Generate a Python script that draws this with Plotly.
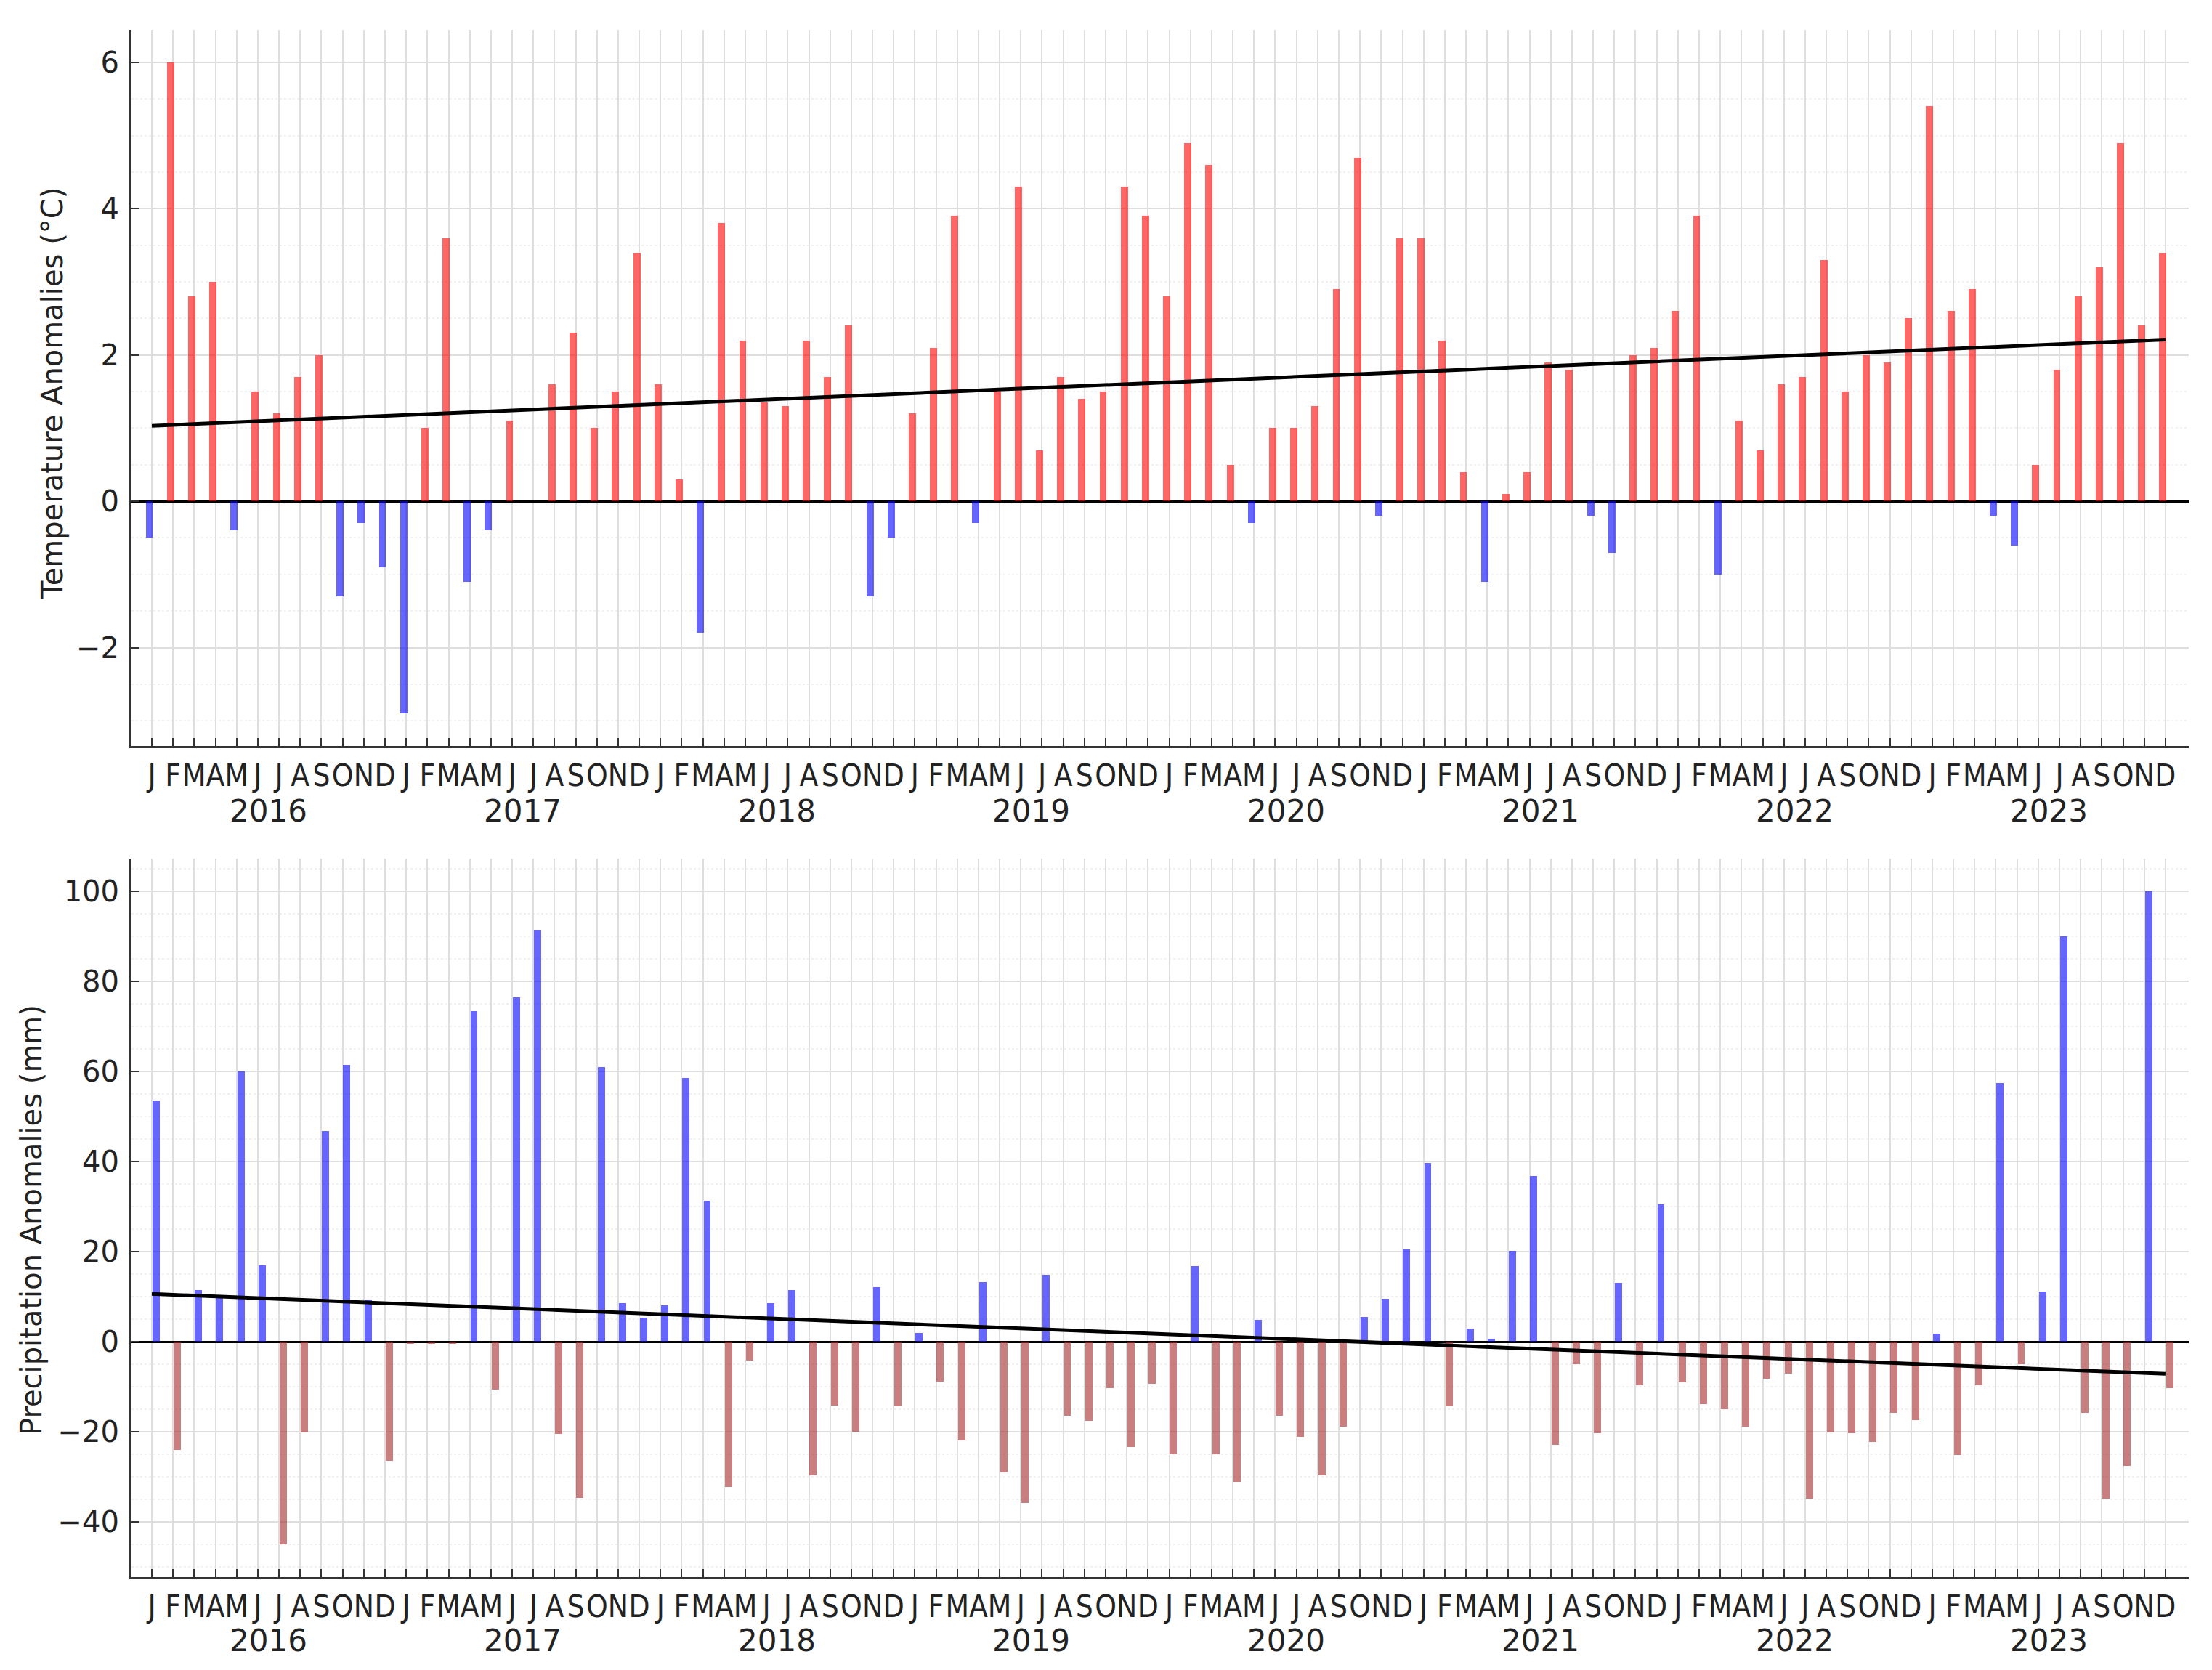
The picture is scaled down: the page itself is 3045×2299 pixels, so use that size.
import numpy as np
import plotly.graph_objects as go

# ---------------- data ----------------
years = [2016, 2017, 2018, 2019, 2020, 2021, 2022, 2023]
month_letters = ["J", "F", "M", "A", "M", "J", "J", "A", "S", "O", "N", "D"]

temp_anom = [
    -0.5, 6.0, 2.8, 3.0, -0.4, 1.5, 1.2, 1.7, 2.0, -1.3, -0.3, -0.9,     # 2016
    -2.9, 1.0, 3.6, -1.1, -0.4, 1.1, 0.0, 1.6, 2.3, 1.0, 1.5, 3.4,       # 2017
    1.6, 0.3, -1.8, 3.8, 2.2, 1.35, 1.3, 2.2, 1.7, 2.4, -1.3, -0.5,      # 2018
    1.2, 2.1, 3.9, -0.3, 1.5, 4.3, 0.7, 1.7, 1.4, 1.5, 4.3, 3.9,         # 2019
    2.8, 4.9, 4.6, 0.5, -0.3, 1.0, 1.0, 1.3, 2.9, 4.7, -0.2, 3.6,        # 2020
    3.6, 2.2, 0.4, -1.1, 0.1, 0.4, 1.9, 1.8, -0.2, -0.7, 2.0, 2.1,       # 2021
    2.6, 3.9, -1.0, 1.1, 0.7, 1.6, 1.7, 3.3, 1.5, 2.0, 1.9, 2.5,         # 2022
    5.4, 2.6, 2.9, -0.2, -0.6, 0.5, 1.8, 2.8, 3.2, 4.9, 2.4, 3.4,        # 2023
]

precip_anom = [
    53.5, -24.0, 11.5, 10.0, 60.0, 17.0, -45.0, -20.2, 46.7, 61.5, 9.3, -26.4,        # 2016
    -0.5, -0.5, -0.5, 73.3, -10.6, 76.4, 91.4, -20.5, -34.6, 61.0, 8.6, 5.3,          # 2017
    8.0, 58.6, 31.3, -32.2, -4.1, 8.6, 11.5, -29.7, -14.1, -19.9, 12.1, -14.4,        # 2018
    2.0, -8.8, -21.9, 13.2, -29.0, -35.8, 14.9, -16.4, -17.6, -10.3, -23.4, -9.4,     # 2019
    -24.9, 16.8, -24.9, -31.1, 4.9, -16.4, -21.1, -29.7, -18.8, 5.5, 9.6, 20.5,       # 2020
    39.6, -14.4, 2.9, 0.6, 20.2, 36.7, -22.9, -5.0, -20.3, 13.1, -9.7, 30.5,          # 2021
    -9.0, -13.8, -15.0, -18.8, -8.2, -7.0, -34.8, -20.2, -20.3, -22.3, -15.8, -17.4,  # 2022
    1.8, -25.2, -9.7, 57.4, -5.0, 11.1, 89.9, -15.8, -34.8, -27.5, 99.9, -10.3,       # 2023
]

temp_ticks = [-2, 0, 2, 4, 6]
precip_ticks = [-40, -20, 0, 20, 40, 60, 80, 100]

# ---------------- derived ----------------
n = len(temp_anom)
idx = np.arange(n)
tick_text = [month_letters[i % 12] for i in range(n)]

t_fit = np.polyfit(idx, temp_anom, 1)
p_fit = np.polyfit(idx, precip_anom, 1)
t_trend = np.polyval(t_fit, idx)
p_trend = np.polyval(p_fit, idx)

RED = "rgba(255,0,0,0.6)"
BLUE = "rgba(0,0,255,0.6)"
BROWN = "rgba(165,42,42,0.6)"

t_colors = [RED if v >= 0 else BLUE for v in temp_anom]
p_colors = [BLUE if v >= 0 else BROWN for v in precip_anom]

def fmt(v):
    return ("\u2212" + str(abs(v))) if v < 0 else str(v)

fig = go.Figure()

fig.add_trace(go.Bar(x=idx, y=temp_anom, width=0.34, offset=-0.29,
                     marker=dict(color=t_colors, line=dict(width=0)),
                     xaxis="x", yaxis="y", showlegend=False))
fig.add_trace(go.Scatter(x=idx, y=t_trend, mode="lines",
                         line=dict(color="black", width=5),
                         xaxis="x", yaxis="y", showlegend=False))

fig.add_trace(go.Bar(x=idx, y=precip_anom, width=0.34, offset=0.03,
                     marker=dict(color=p_colors, line=dict(width=0)),
                     xaxis="x2", yaxis="y2", showlegend=False))
fig.add_trace(go.Scatter(x=idx, y=p_trend, mode="lines",
                         line=dict(color="black", width=5),
                         xaxis="x2", yaxis="y2", showlegend=False))

W, H = 3045, 2299
L, R, T, B = 181, 32, 41, 128
plot_h = H - T - B
top_dom = [(2171 - 1027) / plot_h, 1.0]
bot_dom = [0.0, (2171 - 1182) / plot_h]

FONT = "DejaVu Sans"
COND = "DejaVu Sans Condensed, Liberation Sans Narrow, DejaVu Sans"
AXC = "#333333"
GRID = "#dedede"

xcommon = dict(
    range=[-0.96, 96.1], tickmode="array", tickvals=list(idx), ticktext=tick_text,
    ticks="inside", ticklen=11, tickwidth=2, tickcolor=AXC, tickangle=0,
    tickfont=dict(family=COND, size=42, color="#222222"),
    showline=True, linecolor=AXC, linewidth=3, mirror=False,
    showgrid=True, gridcolor=GRID, gridwidth=1.8, zeroline=False,
    ticklabelstandoff=2,
)
ycommon = dict(
    ticks="inside", ticklen=11, tickwidth=2, tickcolor=AXC,
    tickfont=dict(family=FONT, size=40, color="#222222"),
    showline=True, linecolor=AXC, linewidth=3, mirror=False,
    showgrid=True, gridcolor=GRID, gridwidth=1.5,
    zeroline=True, zerolinecolor="black", zerolinewidth=2.5,
    ticklabelstandoff=6,
)

fig.update_layout(
    width=W, height=H,
    margin=dict(l=L, r=R, t=T, b=B),
    paper_bgcolor="white", plot_bgcolor="white",
    bargap=0, barmode="overlay",
    xaxis=dict(domain=[0, 1], anchor="y", **xcommon),
    xaxis2=dict(domain=[0, 1], anchor="y2", **xcommon),
    yaxis=dict(domain=top_dom, anchor="x", range=[-3.345, 6.445],
               tickmode="array", tickvals=temp_ticks, ticktext=[fmt(v) for v in temp_ticks],
               minor=dict(dtick=0.5, showgrid=True, gridcolor="#f1f1f1", griddash="dot", ticks=""),
               **ycommon),
    yaxis2=dict(domain=bot_dom, anchor="x2", range=[-52.2, 107.2],
                tickmode="array", tickvals=precip_ticks, ticktext=[fmt(v) for v in precip_ticks],
                minor=dict(dtick=5, showgrid=True, gridcolor="#f1f1f1", griddash="dot", ticks=""),
                **ycommon),
    showlegend=False,
)

# y-axis titles as annotations (precise placement)
pw = W - L - R
fig.add_annotation(text="Temperature Anomalies (°C)", textangle=-90,
                   xref="paper", yref="paper",
                   x=(72 - L) / pw, y=(2171 - 542) / plot_h,
                   xanchor="center", yanchor="middle", showarrow=False,
                   font=dict(family=FONT, size=40, color="#222222"))
fig.add_annotation(text="Precipitation Anomalies (mm)", textangle=-90,
                   xref="paper", yref="paper",
                   x=(43 - L) / pw, y=(2171 - 1680) / plot_h,
                   xanchor="center", yanchor="middle", showarrow=False,
                   font=dict(family=FONT, size=40, color="#222222"))

# year labels under each panel
for k, yr in enumerate(years):
    xc = 12 * k + 5.5
    fig.add_annotation(text=str(yr), xref="x", yref="paper", x=xc,
                       y=(2171 - 1117) / plot_h, xanchor="center", yanchor="middle",
                       showarrow=False, font=dict(family=FONT, size=42, color="#222222"))
    fig.add_annotation(text=str(yr), xref="x2", yref="paper", x=xc,
                       y=(2171 - 2258) / plot_h, xanchor="center", yanchor="middle",
                       showarrow=False, font=dict(family=FONT, size=42, color="#222222"))

fig.write_html("out.html", config={"displayModeBar": False},
               post_script="document.body.style.margin='0';document.body.style.padding='0';")
